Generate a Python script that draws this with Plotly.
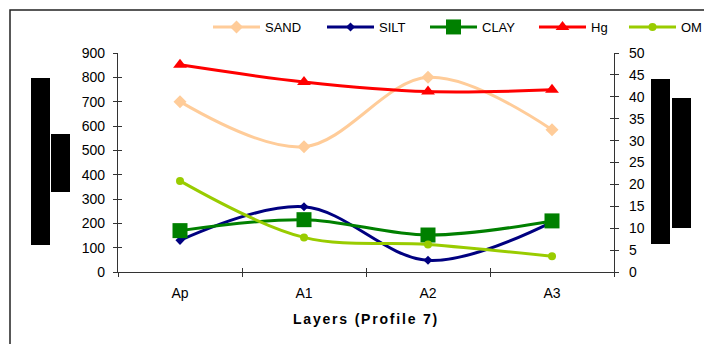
import plotly.graph_objects as go

# Soil layers of profile 7
layers = ["Ap", "A1", "A2", "A3"]

# Particle-size fractions (g/kg), left axis
sand = [700, 515, 800, 585]
silt = [130, 268, 48, 205]
clay = [170, 215, 152, 210]

# Mercury and organic matter, right axis
hg = [47.3, 43.4, 41.2, 41.6]
om = [20.8, 7.9, 6.3, 3.6]

left_range = [0, 900]
right_range = [0, 50]

W, H = 704, 344
PLOT_L, PLOT_R, PLOT_T, PLOT_B = 118, 614, 53, 272
AXIS_COLOR = "#333333"
FONT = "Liberation Sans, Arial, sans-serif"


def px(x):
    return (x - PLOT_L) / (PLOT_R - PLOT_L)


def py(y):
    return (PLOT_B - y) / (PLOT_B - PLOT_T)


fig = go.Figure()

# name, values, axis, colour, marker, legend slot, legend left edge (px)
series = [
    ("SAND", sand, "y", "#FFCC99", dict(symbol="diamond", size=10), "legend", 208),
    ("SILT", silt, "y", "#000080", dict(symbol="diamond", size=7), "legend2", 322),
    ("CLAY", clay, "y", "#008000", dict(symbol="square", size=15), "legend3", 425),
    ("Hg", hg, "y2", "#FF0000", dict(symbol="triangle-up", size=12), "legend4", 534),
    ("OM", om, "y2", "#99CC00", dict(symbol="circle", size=8), "legend5", 624),
]
legends = {}
for name, vals, yax, color, marker, leg, leg_x in series:
    fig.add_trace(go.Scatter(
        x=layers, y=vals, name=name, yaxis=yax, legend=leg,
        mode="lines+markers",
        line=dict(color=color, width=3, shape="spline", smoothing=1.0),
        marker=dict(color=color, line=dict(width=0), **marker),
    ))
    legends[leg] = dict(
        orientation="h", x=px(leg_x), y=py(27), xanchor="left", yanchor="middle",
        font=dict(family=FONT, size=13, color="black"),
        itemwidth=47, bgcolor="rgba(0,0,0,0)",
    )

# Empty traces that carry the inner half of the crossing tick marks
fig.add_trace(go.Scatter(x=[], y=[], yaxis="y3", showlegend=False, hoverinfo="skip"))
fig.add_trace(go.Scatter(x=[], y=[], yaxis="y4", showlegend=False, hoverinfo="skip"))
fig.add_trace(go.Scatter(x=[], y=[], xaxis="x3", showlegend=False, hoverinfo="skip"))

tick_font = dict(family=FONT, size=14, color="black")

shapes = [
    # chart frame
    dict(type="rect", xref="paper", yref="paper",
         x0=px(10), x1=px(W + 20), y0=py(H + 20), y1=py(10),
         line=dict(color="#222222", width=1.5), fillcolor="rgba(0,0,0,0)", layer="above"),
]
for x0, x1, y0, y1 in [(31, 50, 78, 245), (51, 70, 134, 192),
                       (651, 670, 79, 244), (672, 691, 98, 228)]:
    shapes.append(dict(type="rect", xref="paper", yref="paper",
                       x0=px(x0), x1=px(x1), y0=py(y1), y1=py(y0),
                       line=dict(width=0), fillcolor="black", layer="above"))

fig.update_layout(
    width=W, height=H,
    margin=dict(l=PLOT_L, r=W - PLOT_R, t=PLOT_T, b=H - PLOT_B, autoexpand=False),
    paper_bgcolor="white", plot_bgcolor="white",
    font=dict(family=FONT, size=13, color="black"),
    showlegend=True,
    **legends,
    xaxis=dict(
        type="category", range=[-0.5, 3.5], tickson="boundaries",
        ticks="outside", ticklen=4, tickcolor=AXIS_COLOR, tickwidth=1,
        showline=True, linecolor=AXIS_COLOR, linewidth=1.2,
        showgrid=False, zeroline=False, tickfont=tick_font,
        ticklabelstandoff=8,
        title=dict(text='<b><span style="letter-spacing:1.8px">Layers (Profile 7)</span></b>',
                   font=dict(family=FONT, size=14, color="black"), standoff=14),
    ),
    xaxis3=dict(
        overlaying="x", anchor="y", range=[-0.5, 3.5], tickvals=[0.5, 1.5, 2.5],
        ticks="inside", ticklen=4, tickcolor=AXIS_COLOR, tickwidth=1,
        showticklabels=False, showline=False, showgrid=False, zeroline=False,
    ),
    yaxis=dict(
        range=left_range, dtick=100, ticks="outside", ticklen=4,
        tickcolor=AXIS_COLOR, tickwidth=1, showline=True, linecolor=AXIS_COLOR,
        linewidth=1.2, showgrid=False, zeroline=False, tickfont=tick_font,
        ticklabelstandoff=5,
    ),
    yaxis2=dict(
        overlaying="y", side="right", anchor="x", range=right_range, dtick=5,
        ticks="outside", ticklen=4, tickcolor=AXIS_COLOR, tickwidth=1,
        showline=True, linecolor=AXIS_COLOR, linewidth=1.2, showgrid=False,
        zeroline=False, tickfont=tick_font, ticklabelstandoff=7,
    ),
    yaxis3=dict(
        overlaying="y", side="left", anchor="x", range=left_range, dtick=100,
        ticks="inside", ticklen=4, tickcolor=AXIS_COLOR, tickwidth=1,
        showticklabels=False, showline=False, showgrid=False, zeroline=False,
    ),
    yaxis4=dict(
        overlaying="y", side="right", anchor="x", range=right_range, dtick=5,
        ticks="inside", ticklen=4, tickcolor=AXIS_COLOR, tickwidth=1,
        showticklabels=False, showline=False, showgrid=False, zeroline=False,
    ),
    shapes=shapes,
)

fig.write_html("out.html")
